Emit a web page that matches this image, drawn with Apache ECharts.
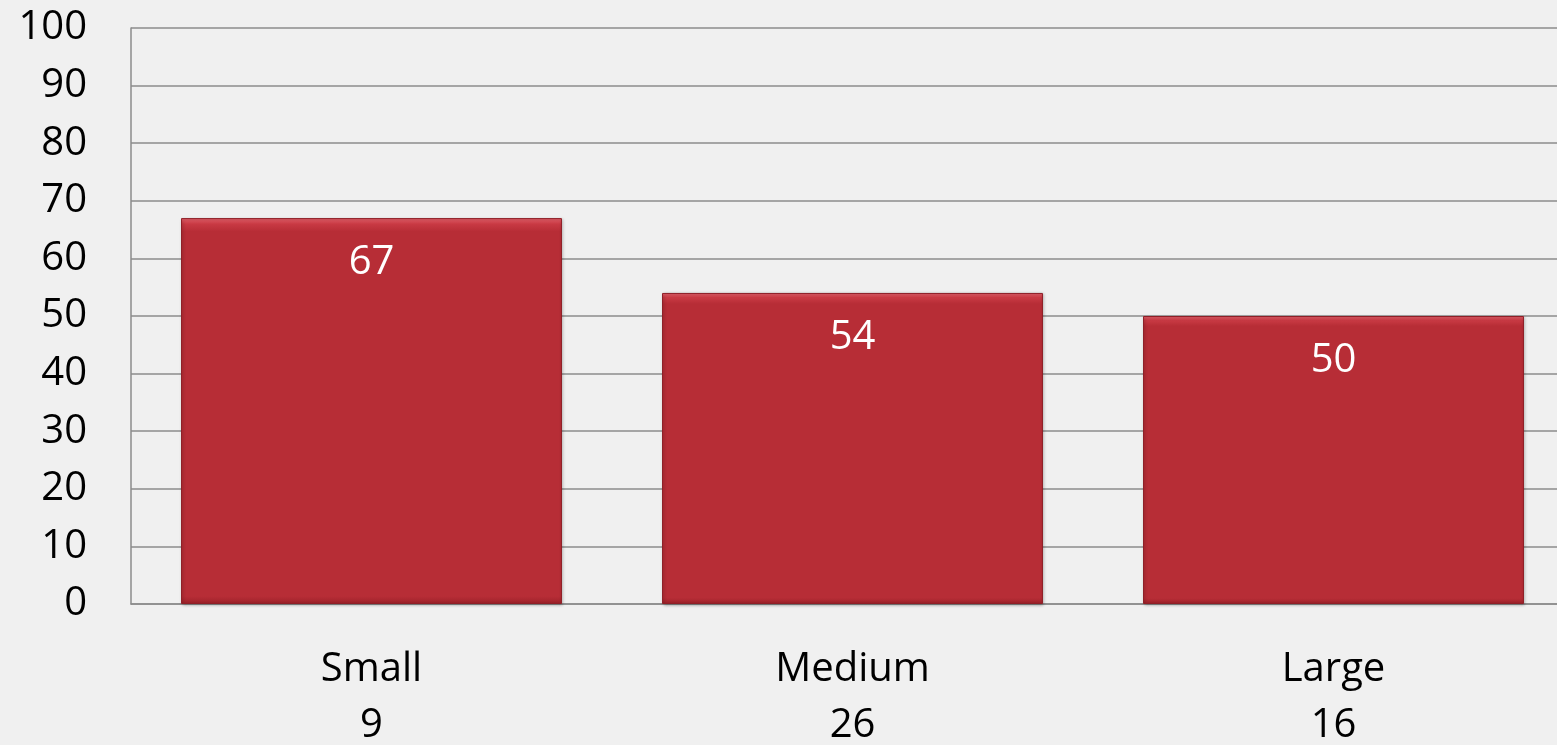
<!DOCTYPE html>
<html><head><meta charset="utf-8">
<script src="https://cdn.jsdelivr.net/npm/echarts@6/dist/echarts.min.js"></script>
<style>html,body{margin:0;padding:0;background:#f0f0f0;overflow:hidden;}#c{width:1557px;height:745px;}</style>
</head><body><div id="c"></div>
<script>
const categories = ['Small', 'Medium', 'Large'];
const counts = ['9', '26', '16'];
const values = [67, 54, 50];
const yTicks = [0, 10, 20, 30, 40, 50, 60, 70, 80, 90, 100];

const chart = echarts.init(document.getElementById('c'));
const FONT = '"Open Sans", sans-serif';
chart.setOption({
  backgroundColor: '#f0f0f0',
  animation: false,
  grid: { left: 131, right: -17, top: 28, bottom: 141, containLabel: false, outerBoundsMode: 'none' },
  xAxis: {
    type: 'category',
    data: categories.map((c, i) => c + '\n' + counts[i]),
    axisTick: { show: false },
    axisLine: { lineStyle: { color: '#8c8c8c', width: 1.5 } },
    axisLabel: { color: '#000', fontFamily: FONT, fontSize: 40, lineHeight: 56, margin: 38 }
  },
  yAxis: {
    type: 'value', min: yTicks[0], max: yTicks[yTicks.length - 1], interval: 10,
    axisLine: { show: true, lineStyle: { color: '#8c8c8c', width: 1.5 } },
    axisTick: { show: false },
    splitLine: { lineStyle: { color: '#8c8c8c', width: 1.5 } },
    axisLabel: { color: '#000', fontFamily: FONT, fontSize: 40, margin: 44 }
  },
  series: [{
    type: 'bar',
    data: values,
    barCategoryGap: '20.8%',
    itemStyle: {
      color: new echarts.graphic.LinearGradient(0, 0, 0, 1, [
        { offset: 0, color: '#ee6570' },
        { offset: 0.015, color: '#c93a44' },
        { offset: 0.035, color: '#b72d36' },
        { offset: 0.98, color: '#b72d36' },
        { offset: 1, color: '#9c2129' }
      ]),
      borderColor: '#8f1f27',
      borderWidth: 1,
      shadowColor: 'rgba(0,0,0,0.3)',
      shadowBlur: 3,
      shadowOffsetX: 1,
      shadowOffsetY: 1
    },
    label: {
      show: true, position: 'insideTop', distance: 25,
      color: '#fff', fontFamily: FONT, fontSize: 40
    }
  }]
});
</script></body></html>
